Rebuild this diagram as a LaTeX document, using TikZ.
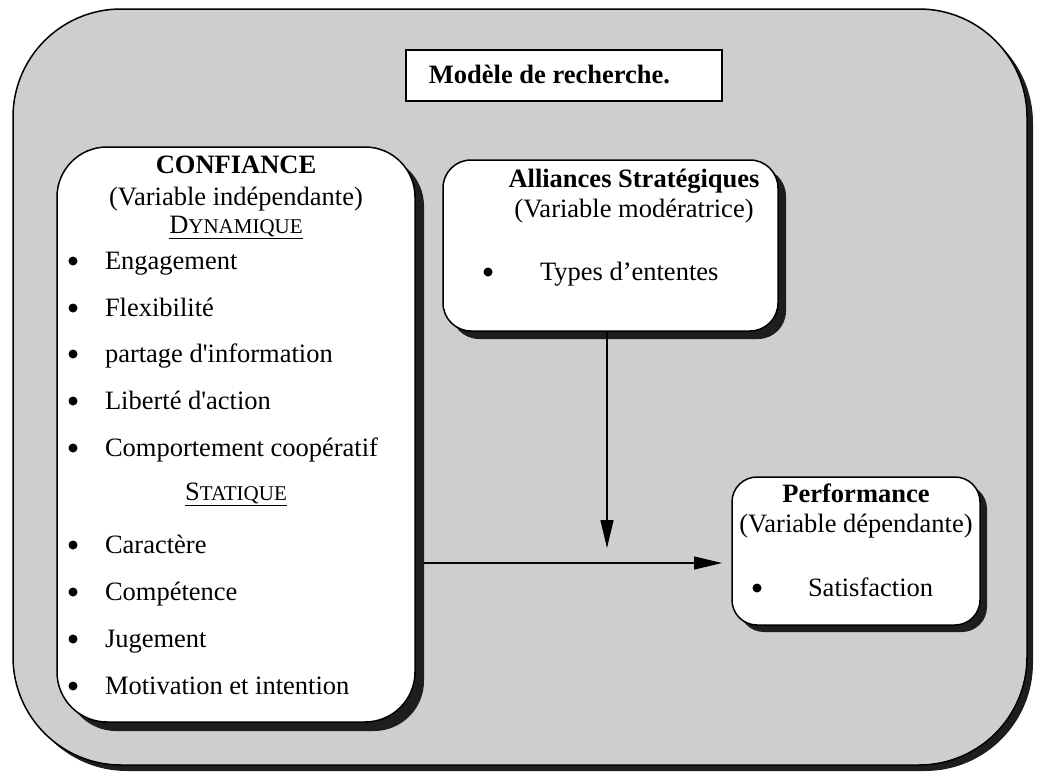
\documentclass[tikz,border=0pt]{standalone}
\usepackage{fontspec}
\setmainfont{Liberation Serif}[Ligatures=TeXOff]
\usetikzlibrary{arrows.meta,shadows}
\definecolor{panel}{RGB}{206,206,206}
\definecolor{shade}{RGB}{30,30,30}
\begin{document}
\begin{tikzpicture}[x=1pt,y=-1pt,
  every node/.style={inner sep=0pt,outer sep=0pt},
  txt/.style={anchor=base,font=\fontsize{26.5}{30}\selectfont},
  bold/.style={anchor=base,font=\fontsize{26.5}{30}\selectfont\bfseries},
  dot/.style={circle,fill=black,minimum size=9pt},
  card/.style={draw=black,line width=1.5pt,fill=white,anchor=north west},
  shadowed/.style={drop shadow={shadow xshift=#1,shadow yshift=-#1,opacity=1,fill=shade}},
  link/.style={line width=1.2pt,-{Triangle[length=28pt,width=13pt]}},
]
\useasboundingbox (0,0) rectangle (1037,774);

% outer grey panel
\node[card, fill=panel, rounded corners=108pt, minimum width=1014pt,
      minimum height=756pt, shadowed=6pt] (frame) at (13,9) {};

% title
\node[card, line width=1.6pt, minimum width=316pt, minimum height=51pt] (title) at (406,50) {};
\node[bold] (titletxt) at (549.5,83) {Modèle de recherche.};

% independent variable
\node[card, rounded corners=50pt, minimum width=358pt, minimum height=575pt,
      shadowed=9pt] (conf) at (57,147) {};
\node[bold] (confhead) at (236,173) {CONFIANCE};
\node[txt] (confvar) at (236,205) {(Variable indépendante)};
\node[txt] (dyn) at (236,233) {\underline{D{\fontsize{21}{24}\selectfont YNAMIQUE}}};
\node[txt] (stat) at (236,500) {\underline{S{\fontsize{21}{24}\selectfont TATIQUE}}};
\foreach \t/\y [count=\i] in {Engagement/269, Flexibilité/316,
    partage d'information/362, Liberté d'action/409,
    Comportement coopératif/456, Caractère/553, Compétence/600,
    Jugement/647, Motivation et intention/694}{
  \node[dot] (cb\i) at (73,\y-8) {};
  \node[txt, anchor=base west] (ct\i) at (105,\y) {\t};
}

% moderating variable
\node[card, rounded corners=28pt, minimum width=335pt, minimum height=171pt,
      shadowed=8pt] (alli) at (443,160) {};
\node[bold] (allihead) at (634,187) {Alliances Stratégiques};
\node[txt] (allivar) at (634,217) {(Variable modératrice)};
\node[dot] (ab1) at (488,272) {};
\node[txt, anchor=base west] (at1) at (540,280) {Types d’ententes};

% dependent variable
\node[card, rounded corners=25pt, minimum width=248pt, minimum height=148pt,
      shadowed=7pt] (perf) at (732,477) {};
\node[bold] (perfhead) at (856,502) {Performance};
\node[txt] (perfvar) at (856,532) {(Variable dépendante)};
\node[dot] (pb1) at (757,588) {};
\node[txt, anchor=base west] (pt1) at (808,596) {Satisfaction};

% connectors
\coordinate (modtip) at (607,548);
\coordinate (maintip) at (722,563);
\draw[link] (alli.south -| modtip) -- (modtip);
\draw[link] ([xshift=9pt]conf.east |- maintip) -- (maintip);
\end{tikzpicture}
\end{document}
